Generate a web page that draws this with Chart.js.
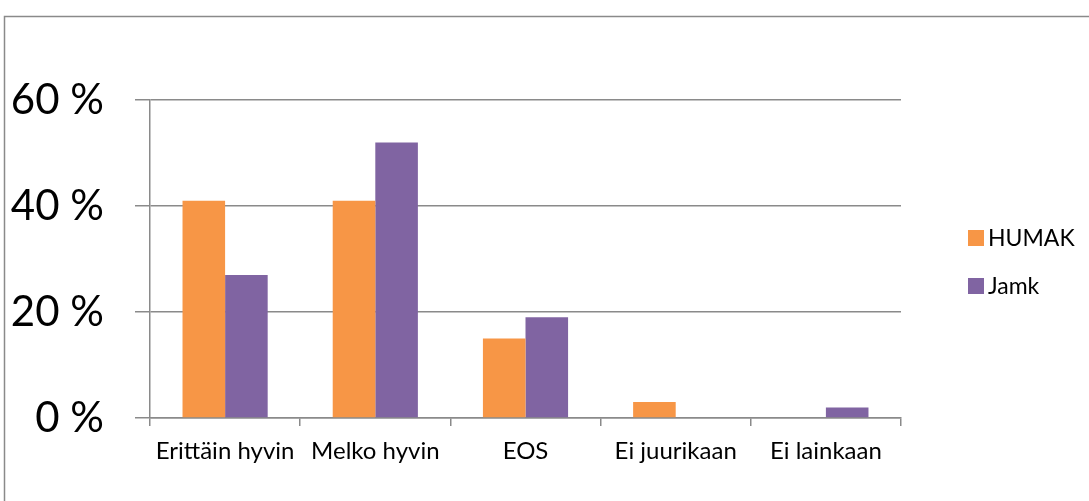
<!DOCTYPE html>
<html>
<head>
<meta charset="utf-8">
<script src="https://cdn.jsdelivr.net/npm/chart.js@4/dist/chart.umd.min.js"></script>
<style>
html,body{margin:0;padding:0;background:#fff;}
#wrap{width:1089px;height:501px;position:relative;}
</style>
</head>
<body>
<div id="wrap"><canvas id="c" width="1089" height="501"></canvas></div>
<script>
const categories = ["Erittäin hyvin", "Melko hyvin", "EOS", "Ei juurikaan", "Ei lainkaan"];
const humak = [41, 41, 15, 3, 0];
const jamk = [27, 52, 19, 0, 2];
const seriesNames = ["HUMAK", "Jamk"];
const seriesColors = ["#F79646", "#8064A2"];
const yTicks = [0, 20, 40, 60];

const FONT = "Lato, 'Open Sans', sans-serif";
const GRID = "#8a8a8a";

const framePlugin = {
  id: 'frame',
  beforeDraw(chart) {
    const ctx = chart.ctx;
    ctx.save();
    ctx.fillStyle = '#fff';
    ctx.fillRect(0, 0, chart.width, chart.height);
    ctx.strokeStyle = GRID;
    ctx.lineWidth = 1.5;
    ctx.beginPath();
    ctx.moveTo(4.5, 510);
    ctx.lineTo(4.5, 16.5);
    ctx.lineTo(1100, 16.5);
    ctx.stroke();
    ctx.restore();
  }
};

const legendPlugin = {
  id: 'customLegend',
  afterDraw(chart) {
    const ctx = chart.ctx;
    ctx.save();
    ctx.font = "23px " + FONT;
    ctx.textBaseline = 'middle';
    ctx.textAlign = 'left';
    const ys = [238, 286];
    chart.data.datasets.forEach((ds, i) => {
      ctx.fillStyle = ds.backgroundColor;
      ctx.fillRect(968, ys[i] - 8, 16, 16);
      ctx.fillStyle = '#000';
      ctx.fillText(ds.label, 988, ys[i] + 1);
    });
    ctx.restore();
  }
};

new Chart(document.getElementById('c'), {
  type: 'bar',
  data: {
    labels: categories,
    datasets: [
      { label: seriesNames[0], data: humak, backgroundColor: seriesColors[0], categoryPercentage: 0.567, barPercentage: 1.0 },
      { label: seriesNames[1], data: jamk, backgroundColor: seriesColors[1], categoryPercentage: 0.567, barPercentage: 1.0 }
    ]
  },
  options: {
    responsive: false,
    animation: false,
    layout: { padding: { left: 0, right: 188, top: 100, bottom: 0 } },
    plugins: { legend: { display: false }, tooltip: { enabled: false } },
    scales: {
      x: {
        grid: { display: true, drawOnChartArea: false, drawTicks: true, tickLength: 8, color: GRID, lineWidth: 1.5, offset: true },
        border: { display: true, color: GRID, width: 1.5 },
        ticks: { color: '#000', font: { family: FONT, size: 24 }, padding: 11, maxRotation: 0, autoSkip: false },
        afterFit(scale) { scale.height = 83; }
      },
      y: {
        min: 0, max: 60,
        afterBuildTicks(scale) { scale.ticks = yTicks.map(v => ({ value: v })); },
        grid: { color: GRID, lineWidth: 1.5, drawTicks: true, tickLength: 15 },
        border: { display: true, color: GRID, width: 1.5 },
        ticks: { color: '#000', font: { family: FONT, size: 42 }, padding: 31, callback: v => v + ' %' },
        afterFit(scale) { scale.width = 150; }
      }
    }
  },
  plugins: [framePlugin, legendPlugin]
});
</script>
</body>
</html>
